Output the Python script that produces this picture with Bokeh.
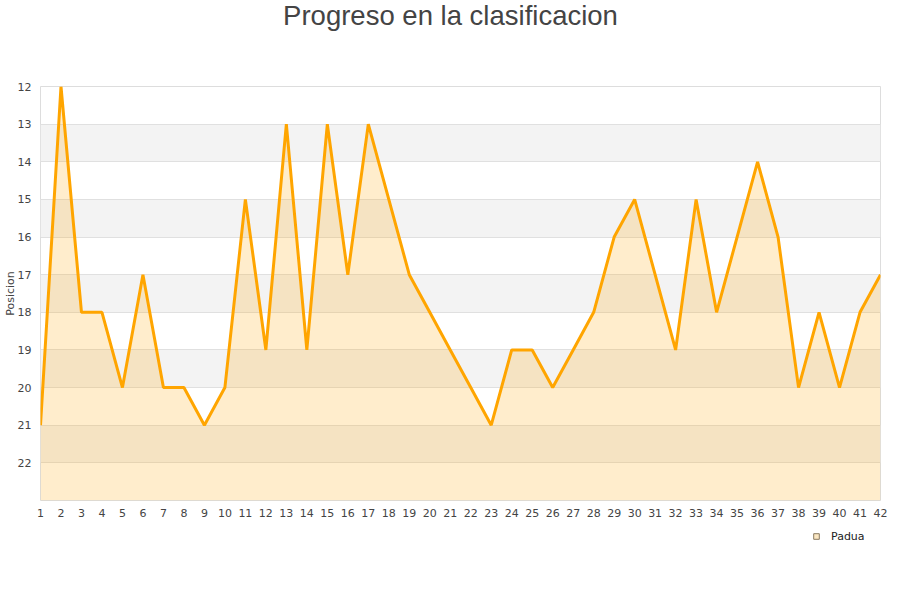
from bokeh.plotting import figure
from bokeh.layouts import column
from bokeh.models import Range1d, FixedTicker, Legend, LegendItem, Label
from bokeh.embed import file_html
from bokeh.resources import INLINE

jornadas = list(range(1, 43))
posiciones = [21, 12, 18, 18, 20, 17, 20, 20, 21, 20,
              15, 19, 13, 19, 13, 17, 13, 15, 17, 18,
              19, 20, 21, 19, 19, 20, 19, 18, 16, 15,
              17, 19, 15, 18, 16, 14, 16, 20, 18, 20,
              18, 17]
y_ticks = list(range(12, 23))
fondo = [23] * len(jornadas)
equipo = "Padua"
titulo = "Progreso en la clasificacion"

W = 896


def helper(h):
    f = figure(width=W, height=h, output_backend="svg", toolbar_location=None,
               x_range=Range1d(0, 1), y_range=Range1d(0, 1),
               x_axis_type=None, y_axis_type=None, min_border=0)
    f.outline_line_color = None
    f.background_fill_color = "white"
    f.border_fill_color = "white"
    return f


# title
pt = helper(40)
pt.add_layout(Label(x=410, x_units="screen", y=25, y_units="screen", text=titulo, text_align="center",
                    text_baseline="alphabetic", text_font="Liberation Sans",
                    text_font_size="27.5px", text_color="#444444"))

# main chart
p = figure(width=W, height=490, output_backend="svg", toolbar_location=None,
           x_range=Range1d(1, 42), y_range=Range1d(23, 12),
           min_border_left=40, min_border_right=16, min_border_top=46, min_border_bottom=30)
p.outline_line_color = "#dddddd"
p.background_fill_color = "white"

p.xaxis.ticker = FixedTicker(ticks=jornadas)
p.yaxis.ticker = FixedTicker(ticks=y_ticks)
for ax in (p.xaxis, p.yaxis):
    ax.axis_line_color = None
    ax.major_tick_line_color = None
    ax.minor_tick_line_color = None
    ax.major_tick_out = 0
    ax.major_tick_in = 0
    ax.minor_tick_out = 0
    ax.minor_tick_in = 0
    ax.major_label_text_font = "DejaVu Sans"
    ax.major_label_text_font_size = "11px"
    ax.major_label_text_color = "#444444"
p.xaxis.major_label_standoff = 8
p.yaxis.major_label_standoff = 9
p.yaxis.axis_label = "Posicion"
p.yaxis.axis_label_text_font = "DejaVu Sans"
p.yaxis.axis_label_text_font_size = "11px"
p.yaxis.axis_label_text_font_style = "normal"
p.yaxis.axis_label_text_color = "#444444"
p.yaxis.axis_label_standoff = -2

p.xgrid.grid_line_color = None
p.ygrid.grid_line_color = "#e0e0e0"
p.ygrid.band_fill_color = "#f3f3f3"
p.ygrid.band_fill_alpha = 1.0

p.varea(x=jornadas, y1=posiciones, y2=fondo, fill_color="#ffa500", fill_alpha=0.2)
p.line(x=jornadas, y=posiciones, line_color="#ffa500", line_width=3)

# legend (swatch renderer kept outside the helper's visible range)
pl = helper(40)
sw = pl.scatter(x=[5], y=[5], marker="square", size=7, fill_color="#fbe7c2",
                line_color="#8a7a60", line_width=1)
legend = Legend(items=[LegendItem(label=equipo, renderers=[sw])], location=(769, 27),
                orientation="horizontal", border_line_color=None, background_fill_alpha=0,
                label_text_font="DejaVu Sans", label_text_font_size="11px", label_text_color="#222222",
                glyph_width=14, glyph_height=14, label_standoff=8, padding=1, margin=0, spacing=0,
                label_height=12)
pl.add_layout(legend)

layout = column(pt, p, pl, spacing=0)
open("out.html", "w").write(file_html(layout, INLINE))
